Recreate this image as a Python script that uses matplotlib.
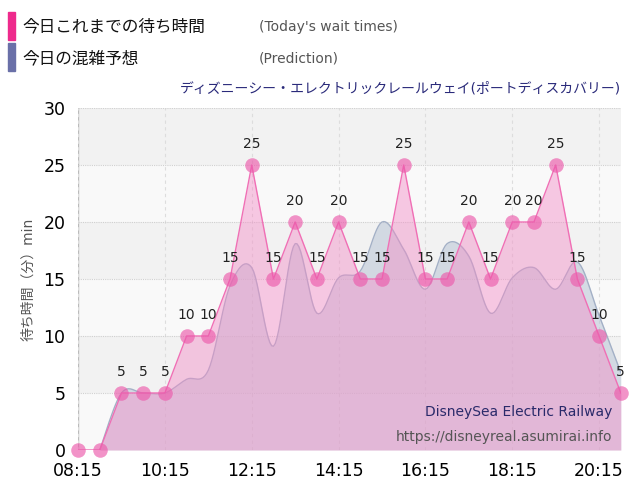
import numpy as np
import matplotlib
matplotlib.use("Agg")
import matplotlib.pyplot as plt
from matplotlib.patches import Rectangle

plt.rcParams["font.family"] = ["DejaVu Sans", "Noto Sans CJK JP"]

# half-hour slots from 08:15 to 20:45
times = ["08:15", "08:45", "09:15", "09:45", "10:15", "10:45", "11:15", "11:45", "12:15",
         "12:45", "13:15", "13:45", "14:15", "14:45", "15:15", "15:45", "16:15", "16:45",
         "17:15", "17:45", "18:15", "18:45", "19:15", "19:45", "20:15", "20:45"]
actual = [0, 0, 5, 5, 5, 10, 10, 15, 25, 15, 20, 15, 20, 15, 15, 25, 15, 15, 20, 15, 20, 20, 25, 15, 10, 5]
# prediction starts at 08:45
predicted = [0, 5, 5, 5, 6.2, 7, 14.4, 16, 9.1, 18.1, 12, 15.1, 15.7, 20, 17.6, 14.1, 18.1, 17,
             12, 15.1, 16, 14.1, 16.5, 11.8, 6.8]
tick_labels = ["08:15", "10:15", "12:15", "14:15", "16:15", "18:15", "20:15"]


def smooth(xs, ys, n=12):
    # catmull-rom curve through the points
    xs = np.asarray(xs, float); ys = np.asarray(ys, float)
    px = np.concatenate([[xs[0]], xs, [xs[-1]]])
    py = np.concatenate([[ys[0]], ys, [ys[-1]]])
    ox, oy = [], []
    for i in range(1, len(px) - 2):
        t = np.linspace(0, 1, n, endpoint=False)
        for p, o in ((px, ox), (py, oy)):
            p0, p1, p2, p3 = p[i - 1], p[i], p[i + 1], p[i + 2]
            o.extend(0.5 * (2 * p1 + (-p0 + p2) * t + (2 * p0 - 5 * p1 + 4 * p2 - p3) * t ** 2
                            + (-p0 + 3 * p1 - 3 * p2 + p3) * t ** 3))
    ox.append(xs[-1]); oy.append(ys[-1])
    return np.array(ox), np.clip(np.array(oy), 0, None)


fig = plt.figure(figsize=(6.4, 5.0), dpi=100)
ax = fig.add_axes([0.122, 0.1, 0.848, 0.684])

x = np.arange(len(actual))
ax.set_xlim(0, len(actual) - 1)
ax.set_ylim(0, 30)

for i, lo in enumerate(range(0, 30, 5)):
    ax.axhspan(lo, lo + 5, color="#f2f2f2" if i % 2 else "#f9f9f9", zorder=0, lw=0)
ax.grid(True, axis="x", color="#dddddd", linestyle=(0, (3, 3)), lw=0.8, zorder=1)
ax.grid(True, axis="y", color="#d0d0d0", linestyle=(0, (1, 1)), lw=0.8, zorder=1)

xp = x[1:]
sx, sy = smooth(xp, predicted)
ax.fill_between(sx, sy, color="#b9c5d6", alpha=0.55, lw=0, zorder=2)
ax.plot(sx, sy, color="#a3b0c6", lw=1, zorder=2)

ax.fill_between(x, actual, color="#f48cc6", alpha=0.45, lw=0, zorder=3)
ax.plot(x, actual, color="#f06fb5", lw=1, zorder=4)
ax.scatter(x, actual, s=110, color="#ec5aab", alpha=0.65, lw=0, zorder=5, clip_on=False)
for xi, v in zip(x, actual):
    if v > 0:
        ax.text(xi, v + 1.2, str(v), ha="center", va="bottom", fontsize=10,
                color="#222222", zorder=6)

ax.set_xticks([times.index(t) for t in tick_labels])
ax.set_xticklabels(tick_labels, fontsize=12.5)
ax.set_yticks(range(0, 31, 5))
ax.tick_params(axis="y", labelsize=12.5, length=0, pad=9)
ax.tick_params(axis="x", length=0, pad=9)
ax.set_ylabel("待ち時間（分）min", fontsize=10, color="#555555", labelpad=6)
for s in ax.spines.values():
    s.set_visible(False)
ax.axvline(0, color="#bbbbbb", lw=1, zorder=1)

ax.text(0.985, 0.1, "DisneySea Electric Railway", transform=ax.transAxes, ha="right",
        fontsize=10, color="#2a2a6a", zorder=7)
ax.text(0.985, 0.025, "https://disneyreal.asumirai.info", transform=ax.transAxes, ha="right",
        fontsize=10, color="#555555", zorder=7)

fig.text(0.97, 0.815, "ディズニーシー・エレクトリックレールウェイ(ポートディスカバリー)",
         ha="right", fontsize=10, color="#2a2a7a")

fig.patches.append(Rectangle((0.012, 0.92), 0.011, 0.055, transform=fig.transFigure,
                             color="#ee2a8c"))
fig.patches.append(Rectangle((0.012, 0.858), 0.011, 0.055, transform=fig.transFigure,
                             color="#6a70a8"))
fig.text(0.035, 0.947, "今日これまでの待ち時間", fontsize=12, va="center", color="#111111")
fig.text(0.035, 0.883, "今日の混雑予想", fontsize=12, va="center", color="#111111")
fig.text(0.405, 0.947, "(Today's wait times)", fontsize=10, va="center", color="#555555")
fig.text(0.405, 0.883, "(Prediction)", fontsize=10, va="center", color="#555555")

fig.savefig("out.png", dpi=100)
